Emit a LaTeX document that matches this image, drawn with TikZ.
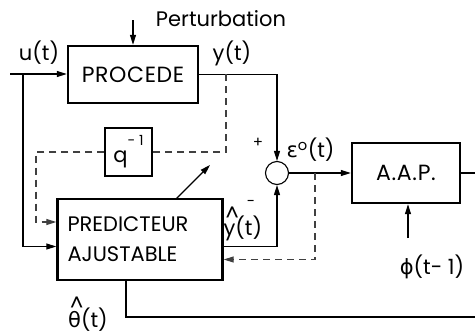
\documentclass[tikz,border=0pt]{standalone}
\usepackage{fontspec}
\setmainfont{Poppins}
\newfontfamily\greekfont{DejaVu Sans}
\usetikzlibrary{arrows.meta,positioning,calc}

\begin{document}
\begin{tikzpicture}[x=1pt,y=-1pt,
  font=\fontsize{21}{30}\selectfont,
  line width=1.1pt, >={Triangle[length=10pt,width=6pt]},
  block/.style={draw, line width=2.4pt, inner sep=0pt},
  wide/.style={font=\fontsize{22}{30}\selectfont\addfontfeatures{LetterSpace=3}},
  delay/.style={draw, line width=1.2pt, inner sep=0pt},
  sumnode/.style={circle, draw, line width=1.1pt, minimum size=23pt, inner sep=0pt},
  dsh/.style={draw=black!75, dash pattern=on 7pt off 5pt},
  sign/.style={font=\fontsize{15}{15}\selectfont, inner sep=0pt}]
  \useasboundingbox (0,0) rectangle (475,333);
  % blocs
  \node[block, wide, minimum width=130pt, minimum height=57pt] (proc) at (133,74.5) {PROCEDE};
  \node[block, minimum width=165pt, minimum height=81pt, text width=145pt, inner xsep=10pt, align=left] (pred) at (140,239.5) {PREDICTEUR\\AJUSTABLE};
  \node[block, wide, minimum width=108pt, minimum height=60pt] (aap) at (406,173) {A.A.P.};
  \node[delay, minimum width=47pt, minimum height=48pt] (qinv) at (128.5,152) {q\raisebox{0.8em}{\fontsize{14}{14}\selectfont - 1}};
  \node[sumnode] (sum) at (277,173) {};
  % points
  \coordinate (uin) at (10,74);
  \coordinate (ubr) at (23,74);
  \coordinate (pertin) at (133,20);
  \coordinate (ytap) at (226,74);
  \coordinate (qturn) at (36,222);
  \coordinate (epstap) at (315,173);
  \coordinate (phiin) at (408,238);
  \coordinate (aapout) at (475,173);
  \coordinate (thend) at (475,317);
  \coordinate (tunefrom) at (176,199);
  \coordinate (tuneto) at (210,165);
  % liaisons
  \draw[->] (uin) -- (uin -| proc.west);
  \draw[->] (ubr) |- ($(pred.west)+(0,7)$);
  \draw[->] (pertin) -- (proc.north);
  \draw[->] (proc.east) -| (sum.north);
  \draw[dsh] (ytap) |- (qinv.east);
  \draw[dsh,->] (qinv.west) -| (qturn) -- (qturn -| pred.west);
  \draw[->] ($(pred.east)+(0,7)$) -| (sum.south);
  \draw[->] (sum.east) -- (aap.west);
  \draw[dsh,->] (epstap) |- ($(pred.east)+(0,20)$);
  \draw[->] (phiin) -- (phiin |- aap.south);
  \draw (aap.east) -- (aapout);
  \draw ($(pred.south)+(-14,0)$) |- (thend);
  \draw[->] (tunefrom) -- (tuneto);
  % textes
  \node (pertlbl) at (221,19) {Perturbation};
  \node (ulbl) at (39,53) {u(t)};
  \node (ylbl) at (232,53) {y(t)};
  \node[sign] (plus) at (258,143) {+};
  \node[sign] (minus) at (251,203) {-};
  \node[anchor=west, inner sep=1pt] (epslbl) at (285,150) {{\greekfont ε}\textsuperscript{o}(t)};
  \node[anchor=west, inner sep=1pt] (yhat) at (222,224) {\makebox[0pt][l]{\hspace{2pt}\raisebox{0.7em}{\^{}}}y(t)};
  \node (philbl) at (432,267) {{\greekfont ϕ}(t- 1)};
  \node[anchor=base, inner sep=0pt] (thlbl) at (88,327) {\makebox[0pt][l]{\hspace{2pt}\raisebox{0.75em}{\^{}}}{\greekfont θ}(t)};
\end{tikzpicture}
\end{document}
